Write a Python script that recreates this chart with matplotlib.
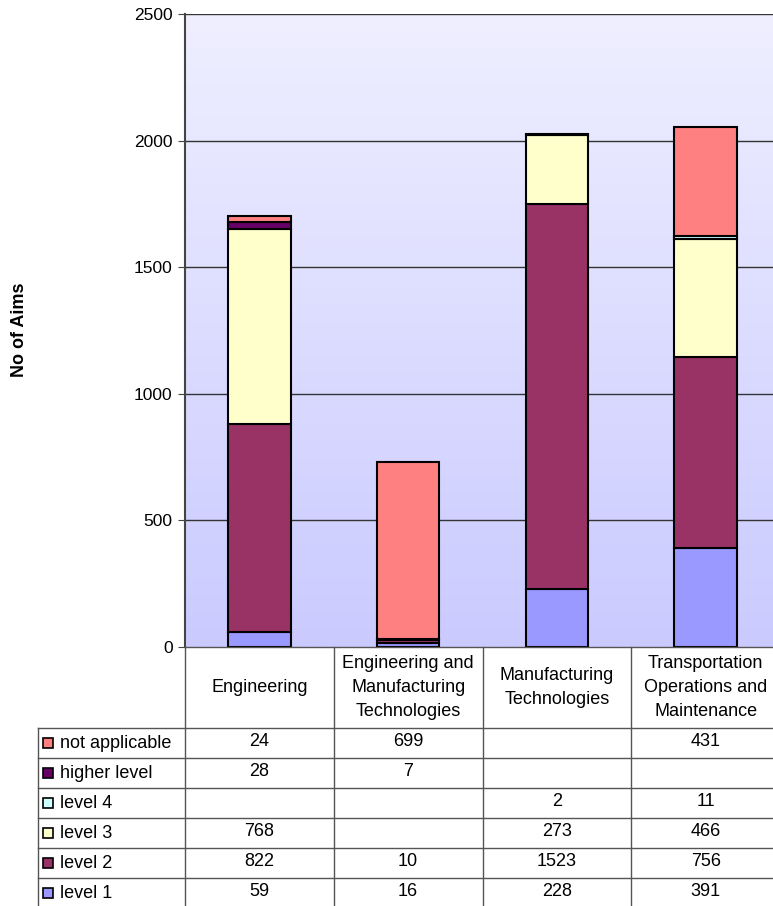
import matplotlib
matplotlib.use("Agg")
import matplotlib.pyplot as plt
import numpy as np
from matplotlib.patches import Rectangle
from matplotlib.lines import Line2D

plt.rcParams['font.family'] = ['Liberation Sans', 'DejaVu Sans']

categories = ["Engineering", "Engineering and\nManufacturing\nTechnologies",
              "Manufacturing\nTechnologies", "Transportation\nOperations and\nMaintenance"]
series_names = ["level 1", "level 2", "level 3", "level 4", "higher level", "not applicable"]
level_1 = [59, 16, 228, 391]
level_2 = [822, 10, 1523, 756]
level_3 = [768, 0, 273, 466]
level_4 = [0, 0, 2, 11]
higher_level = [28, 7, 0, 0]
not_applicable = [24, 699, 0, 431]
colors = ["#9999FF", "#993366", "#FFFFCC", "#CCFFFF", "#660066", "#FF8080"]
yticks = [0, 500, 1000, 1500, 2000, 2500]

series = [level_1, level_2, level_3, level_4, higher_level, not_applicable]

W, H = 773, 906
fig = plt.figure(figsize=(W / 100, H / 100), dpi=100)

def fx(px):
    return px / W

def fy(py):
    return 1 - py / H

ax_left, ax_right, ax_top, ax_bot = 185, 780, 14, 647
ax = fig.add_axes([fx(ax_left), fy(ax_bot), fx(ax_right - ax_left), (ax_bot - ax_top) / H])

# gradient background
grad = np.linspace(0, 1, 256).reshape(-1, 1)
top_c = np.array([0xEF, 0xEF, 0xFF]) / 255
bot_c = np.array([0xCA, 0xCA, 0xFF]) / 255
img = top_c[None, None, :] * (1 - grad[:, :, None]) + bot_c[None, None, :] * grad[:, :, None]
ax.imshow(img, extent=[-0.5, 3.5, 0, 2500], aspect='auto', zorder=0, origin='upper')

x = np.arange(len(categories))
bottom = np.zeros(len(categories))
for vals, c, name in zip(series, colors, series_names):
    v = np.array(vals, dtype=float)
    mask = v > 0
    ax.bar(x[mask], v[mask], bottom=bottom[mask], width=0.42, color=c,
           edgecolor='black', linewidth=1.5, zorder=3, label=name)
    bottom += v

ax.set_xlim(-0.5, 3.5)
ax.set_ylim(0, 2500)
ax.set_yticks(yticks)
ax.set_yticklabels([str(t) for t in yticks], fontsize=12.5)
ax.set_xticks([])
for t in yticks[1:]:
    ax.axhline(t, color='#333333', linewidth=1, zorder=1)
for s in ['top', 'right', 'bottom']:
    ax.spines[s].set_visible(False)
ax.spines['left'].set_color('#444444')
ax.spines['left'].set_linewidth(1.5)
ax.tick_params(axis='y', direction='out', length=5, color='#444444', pad=4)
fig.text(fx(20), fy(330), "No of Aims", rotation=90, ha='center', va='center',
         fontsize=13, fontweight='bold')

# data table
lc = '#555555'
col_w = (ax_right - ax_left) / 4
header_bot = 728
row_h = 30
n_rows = len(series_names)
table_left = 38
table_bottom = header_bot + row_h * n_rows

def hline(y, x0, x1):
    fig.add_artist(Line2D([fx(x0), fx(x1)], [fy(y), fy(y)], color=lc, linewidth=1))

def vline(xp, y0, y1):
    fig.add_artist(Line2D([fx(xp), fx(xp)], [fy(y0), fy(y1)], color=lc, linewidth=1))

hline(ax_bot, ax_left, ax_right)
hline(header_bot, table_left, ax_right)
for i in range(1, n_rows + 1):
    hline(header_bot + row_h * i, table_left, ax_right)
for j in range(4):
    vline(ax_left + col_w * j, ax_bot, table_bottom)
vline(table_left, header_bot, table_bottom)

for j, cat in enumerate(categories):
    fig.text(fx(ax_left + col_w * (j + 0.5)), fy((ax_bot + header_bot) / 2), cat,
             ha='center', va='center', fontsize=13, linespacing=1.55)

rows_order = list(range(n_rows))[::-1]  # not applicable first
for r, si in enumerate(rows_order):
    yc = header_bot + row_h * (r + 0.5)
    fig.add_artist(Rectangle((fx(43), fy(yc + 5)), fx(10), 10 / H, facecolor=colors[si],
                             edgecolor='black', linewidth=1.2))
    fig.text(fx(60), fy(yc), series_names[si], ha='left', va='center', fontsize=13)
    for j in range(4):
        v = series[si][j]
        if v:
            fig.text(fx(ax_left + col_w * (j + 0.5)), fy(yc - 1), str(v),
                     ha='center', va='center', fontsize=13)

fig.savefig("out.png", dpi=100)
